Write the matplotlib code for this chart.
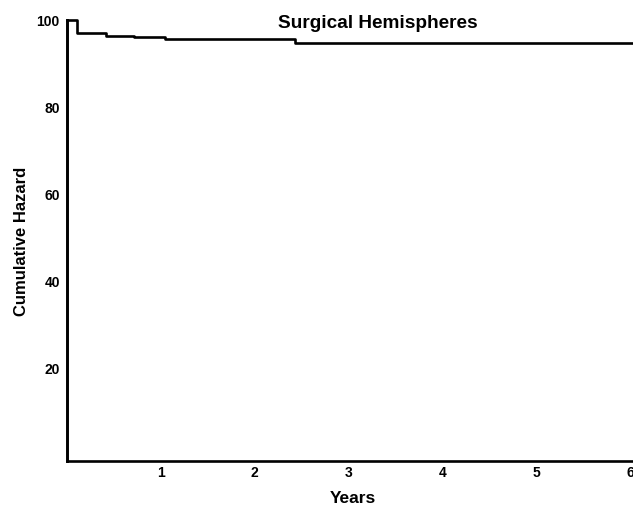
import matplotlib
matplotlib.use('Agg')
import matplotlib.pyplot as plt

plt.rcParams['font.family'] = ['Liberation Sans', 'DejaVu Sans']
plt.rcParams['font.weight'] = 'bold'

# step times (years) and cumulative values
years = [0, 0.105, 0.42, 0.72, 1.045, 2.43, 6.1]
hazard = [100, 96.9, 96.3, 95.9, 95.5, 94.6, 94.6]
xticks = [1, 2, 3, 4, 5, 6]
yticks = [20, 40, 60, 80, 100]

fig = plt.figure(figsize=(6.33, 5.06), dpi=100)
# axes runs past the right edge of the figure, like the cropped original
x0, x1 = 66.7 / 633, 640 / 633
y0, y1 = 1 - 462 / 506, 1 - 20.5 / 506
ax = fig.add_axes([x0, y0, x1 - x0, y1 - y0])

ax.step(years, hazard, where='post', color='black', linewidth=1.9, clip_on=False)
ax.plot([0, 0], [-1.6, 100], color='black', linewidth=1.9, clip_on=False)

ax.set_xlim(0, 6.1)
ax.set_ylim(-1.6, 100)
ax.set_xticks(xticks)
ax.set_yticks(yticks)
ax.set_xticklabels([str(t) for t in xticks], fontsize=10, fontweight='bold')
ax.set_yticklabels([str(t) for t in yticks], fontsize=10, fontweight='bold')
ax.tick_params(axis='x', length=0, pad=3)
ax.tick_params(axis='y', length=0, pad=5)
ax.spines['top'].set_visible(False)
ax.spines['right'].set_visible(False)
for s in ['left', 'bottom']:
    ax.spines[s].set_linewidth(1.9)

ax.set_xlabel('Years', fontsize=12.5, fontweight='bold')
ax.set_ylabel('Cumulative Hazard', fontsize=12, fontweight='bold')
ax.xaxis.set_label_coords(0.5, -0.066)
ax.yaxis.set_label_coords(-0.066, 0.5)
fig.text(377.5 / 633, 1 - 23 / 506, 'Surgical Hemispheres', fontsize=13.7,
         fontweight='bold', ha='center', va='center')

fig.savefig('out.png', dpi=100)
